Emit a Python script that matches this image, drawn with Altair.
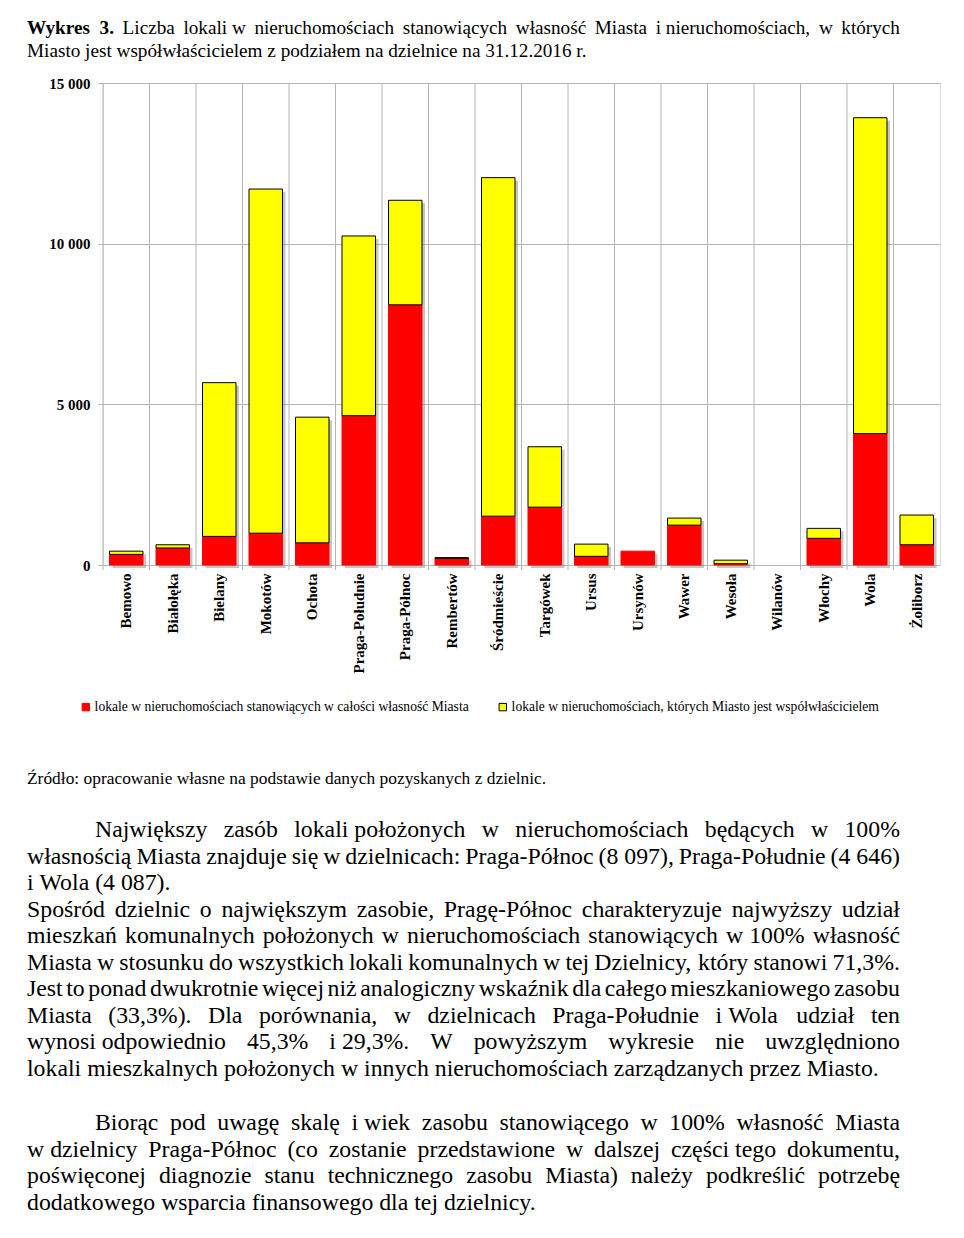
import altair as alt
import pandas as pd

# ---------------- data ----------------
districts = ["Bemowo", "Białołęka", "Bielany", "Mokotów", "Ochota", "Praga-Południe",
             "Praga-Północ", "Rembertów", "Śródmieście", "Targówek", "Ursus", "Ursynów",
             "Wawer", "Wesoła", "Wilanów", "Włochy", "Wola", "Żoliborz"]
own_full = [330, 530, 890, 990, 690, 4646, 8097, 200, 1520, 1800, 270, 430,
            1240, 40, 0, 830, 4087, 630]
co_owned = [100, 100, 4785, 10710, 3910, 5594, 3253, 30, 10535, 1880, 380, 0,
            220, 110, 0, 310, 9833, 925]
series_names = ["lokale w nieruchomościach stanowiących w całości własność Miasta",
                "lokale w nieruchomościach, których Miasto jest współwłaścicielem"]
y_ticks = [0, 5000, 10000, 15000]

NB = "\u00a0"
title_lines = [
    f"Wykres 3. Liczba lokali{NB}w nieruchomościach stanowiących własność Miasta i{NB}nieruchomościach, w których",
    "Miasto jest współwłaścicielem z podziałem na dzielnice na 31.12.2016 r.",
]
source_line = "Źródło: opracowanie własne na podstawie danych pozyskanych z dzielnic."
para1 = [
    f"Największy zasób lokali{NB}położonych w nieruchomościach będących w 100%",
    f"własnością Miasta znajduje się w dzielnicach: Praga-Północ (8{NB}097), Praga-Południe (4{NB}646)",
    f"i{NB}Wola (4{NB}087).",
    "Spośród dzielnic o największym zasobie, Pragę-Północ charakteryzuje najwyższy udział",
    f"mieszkań komunalnych położonych w nieruchomościach stanowiących w{NB}100% własność",
    "Miasta w stosunku do wszystkich lokali komunalnych w tej Dzielnicy, który stanowi 71,3%.",
    "Jest to ponad dwukrotnie więcej niż analogiczny wskaźnik dla całego mieszkaniowego zasobu",
    f"Miasta (33,3%). Dla porównania, w dzielnicach Praga-Południe i{NB}Wola udział ten",
    f"wynosi{NB}odpowiednio 45,3% i{NB}29,3%. W powyższym wykresie nie uwzględniono",
    "lokali mieszkalnych położonych w innych nieruchomościach zarządzanych przez Miasto.",
]
para1_justify = [True, True, False, True, True, True, True, True, True, False]
para1_indent = [True, False, False, False, False, False, False, False, False, False]
para2 = [
    f"Biorąc pod uwagę skalę i{NB}wiek zasobu stanowiącego w 100% własność Miasta",
    f"w{NB}dzielnicy Praga-Północ (co zostanie przedstawione w dalszej części{NB}tego dokumentu,",
    "poświęconej diagnozie stanu technicznego zasobu Miasta) należy podkreślić potrzebę",
    "dodatkowego wsparcia finansowego dla tej dzielnicy.",
]
para2_justify = [True, True, True, False]
para2_indent = [True, False, False, False]
bold_tokens = {"Wykres", "3."}

# ---------------- layout / style ----------------
W, H = 837, 482
STEP = W / len(districts)
PAD_L, PAD_T, TOTAL_W, TOTAL_H = 95, 75, 948, 1216
SERIF = "Liberation Serif"
GRID = "#b4b4b4"
RED, YELLOW = "#ff0000", "#ffff00"
TEXT_L, TEXT_R, INDENT_L = -76, 797, -8

# Times metrics (Liberation Serif is metric compatible)
_TR = dict(zip("abcdefghijklmnopqrstuvwxyz",
               [444, 500, 444, 500, 444, 333, 500, 500, 278, 278, 500, 278, 778, 500, 500,
                500, 500, 333, 389, 278, 500, 500, 722, 500, 500, 444]))
_TR.update(dict(zip("ABCDEFGHIJKLMNOPQRSTUVWXYZ",
                    [722, 667, 667, 722, 611, 556, 722, 722, 333, 389, 722, 611, 889, 722, 722,
                     556, 722, 667, 556, 611, 722, 722, 944, 722, 722, 611])))
_TR.update({" ": 250, ".": 250, ",": 250, ":": 278, ";": 278, "(": 333, ")": 333,
            "-": 333, "%": 833})
_TR.update({d: 500 for d in "0123456789"})
_TB = dict(_TR)
_TB.update(dict(zip("abcdefghijklmnopqrstuvwxyz",
                    [500, 556, 444, 556, 444, 333, 500, 556, 278, 333, 556, 278, 833, 556, 500,
                     556, 556, 444, 389, 333, 556, 500, 722, 500, 500, 444])))
_TB.update({"W": 1000})
_PL = str.maketrans("ąćęłńóśźżĄĆĘŁŃÓŚŹŻ\u00a0", "acelnoszzACELNOSZZ ")


def text_w(s, size, bold=False):
    tbl = _TB if bold else _TR
    return sum(tbl.get(c, 500) for c in s.translate(_PL)) * size / 1000.0


def layout(line, left, right, y, size, justify):
    if not justify:
        return [dict(t=line, x=left, y=y, b=False)]
    toks = line.split(" ")
    ws = [text_w(t, size, t in bold_tokens) for t in toks]
    gap = (right - left - sum(ws)) / (len(toks) - 1)
    rows, x = [], left
    for t, w in zip(toks, ws):
        rows.append(dict(t=t, x=x, y=y, b=t in bold_tokens))
        x += w + gap
    return rows


TITLE_SIZE, PARA_SIZE, SRC_SIZE = 19.2, 23.8, 17.4
title_rows = layout(title_lines[0], TEXT_L, TEXT_R, -49, TITLE_SIZE, True) + \
    layout(title_lines[1], TEXT_L, TEXT_R, -26, TITLE_SIZE, False)
para_rows = []
for i, (ln, j, ind) in enumerate(zip(para1, para1_justify, para1_indent)):
    para_rows += layout(ln, INDENT_L if ind else TEXT_L, TEXT_R, 754 + i * 26.55, PARA_SIZE, j)
for i, (ln, j, ind) in enumerate(zip(para2, para2_justify, para2_indent)):
    para_rows += layout(ln, INDENT_L if ind else TEXT_L, TEXT_R, 1047 + i * 26.6, PARA_SIZE, j)
title_df = pd.DataFrame(title_rows)
para_df = pd.DataFrame(para_rows)
src_df = pd.DataFrame([dict(t=source_line, x=TEXT_L, y=701)])

rows = []
for d, a, b in zip(districts, own_full, co_owned):
    rows.append(dict(district=d, series=series_names[0], value=a, ord=0))
    rows.append(dict(district=d, series=series_names[1], value=b, ord=1))
df = pd.DataFrame(rows)
df = df[df["value"] > 0]

xscale = alt.Scale(domain=districts, paddingInner=0.28, paddingOuter=0.14)
xaxis = alt.Axis(title=None, labelAngle=270, ticks=False, domain=False, grid=False,
                 labelFont=SERIF, labelFontSize=15, labelFontWeight="bold",
                 labelColor="black", labelPadding=8)
yscale = alt.Scale(domain=[0, 15000], nice=False, zero=True)
yaxis = alt.Axis(title=None, values=y_ticks, labelExpr="replace(format(datum.value, ','), ',', ' ')",
                 labelFont=SERIF, labelFontSize=15, labelFontWeight="bold", labelColor="black",
                 tickSize=5, tickColor=GRID, domain=False, grid=True, gridColor=GRID,
                 labelPadding=8)
legend = alt.Legend(title=None, orient="none", legendX=-24, legendY=617, direction="horizontal",
                    columnPadding=27, labelFont=SERIF, labelFontSize=13.6, labelLimit=700,
                    labelColor="black", symbolType="square", symbolSize=55, labelOffset=2,
                    symbolStrokeWidth=1)

grid = alt.Chart(pd.DataFrame({"district": districts})).mark_rule(
    color=GRID, strokeWidth=1, xOffset=-STEP / 2
).encode(
    x=alt.X("district:N", sort=districts, scale=xscale, axis=xaxis),
    y=alt.value(0), y2=alt.value(H + 5),
)

shadow = alt.Chart(df).transform_aggregate(
    total="sum(value)", groupby=["district"]
).mark_bar(color="#8c8c8c", opacity=0.5, xOffset=3, yOffset=3, y2Offset=0).encode(
    x=alt.X("district:N", sort=districts, scale=xscale, axis=xaxis),
    y=alt.Y("total:Q", scale=yscale, axis=yaxis),
)

bars = alt.Chart(df).mark_bar(strokeWidth=1).encode(
    x=alt.X("district:N", sort=districts, scale=xscale, axis=xaxis),
    y=alt.Y("value:Q", stack="zero", scale=yscale, axis=yaxis),
    color=alt.Color("series:N", scale=alt.Scale(domain=series_names, range=[RED, YELLOW]),
                    legend=legend),
    stroke=alt.Stroke("series:N", scale=alt.Scale(domain=series_names, range=[RED, "#000000"]),
                      legend=legend),
    order=alt.Order("ord:Q", sort="ascending"),
)

plot = alt.layer(grid, shadow, bars)


def text_layer(data, size, bold=False):
    return alt.Chart(data).mark_text(
        align="left", baseline="alphabetic", font=SERIF, fontSize=size,
        fontWeight="bold" if bold else "normal", color="black"
    ).encode(
        x=alt.X("x:Q", scale=None, axis=None),
        y=alt.Y("y:Q", scale=None, axis=None),
        text="t:N",
    )


t_norm = text_layer(title_df[~title_df["b"]], TITLE_SIZE)
t_bold = text_layer(title_df[title_df["b"]], TITLE_SIZE, bold=True)
t_src = text_layer(src_df, SRC_SIZE)
t_para = text_layer(para_df, PARA_SIZE)

chart = alt.layer(plot, t_norm, t_bold, t_src, t_para).resolve_scale(
    x="independent", y="independent"
).properties(
    width=W, height=H,
    autosize=alt.AutoSizeParams(type="none"),
    padding={"left": PAD_L, "top": PAD_T, "right": TOTAL_W - PAD_L - W,
             "bottom": TOTAL_H - PAD_T - H},
).configure_view(stroke=GRID).configure(background="white")

chart.save("out.html", embed_options={"renderer": "svg", "actions": False})
